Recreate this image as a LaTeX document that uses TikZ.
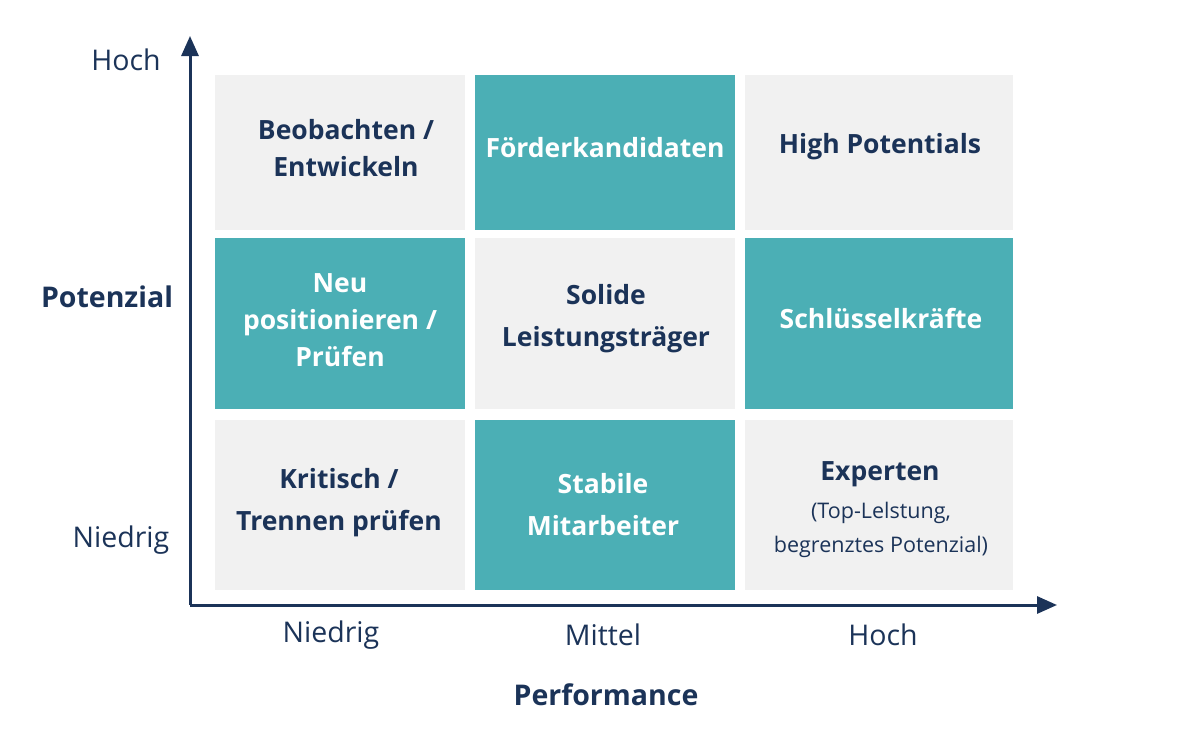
\documentclass[tikz,border=0pt]{standalone}
\usepackage{fontspec}
\setmainfont{Open Sans}
\usetikzlibrary{arrows.meta}
\definecolor{navy}{HTML}{1B3358}
\definecolor{tealc}{HTML}{4BAFB5}
\definecolor{cellgray}{HTML}{F1F1F1}
\tikzset{
  cellbox/.style={draw=none, inner sep=0pt},
  graycell/.style={cellbox, fill=cellgray},
  tealcell/.style={cellbox, fill=tealc},
  celltext/.style={align=center, inner sep=0pt, font=\fontsize{26.5}{42}\selectfont\bfseries},
  tighttext/.style={celltext, font=\fontsize{26.5}{37}\selectfont\bfseries},
  darktext/.style={text=navy},
  lighttext/.style={text=white},
  subtext/.style={align=center, inner sep=0pt, text=navy, font=\fontsize{21.5}{34}\selectfont},
  axisline/.style={draw=navy, line width=3pt, -{Triangle[length=20pt,width=17pt]}},
  ticklabel/.style={text=navy, font=\fontsize{28.5}{30}\selectfont},
  axistitle/.style={text=navy, font=\fontsize{28.5}{30}\selectfont\bfseries}
}
\begin{document}
\begin{tikzpicture}[x=1pt,y=-1pt]
\useasboundingbox[fill=white] (0,0) rectangle (1200,750);
% cells
\node[graycell, minimum width=250pt, minimum height=155pt] (c11) at (340,152.5) {};
\node[tealcell, minimum width=260pt, minimum height=155pt] (c12) at (605,152.5) {};
\node[graycell, minimum width=268pt, minimum height=155pt] (c13) at (879,152.5) {};
\node[tealcell, minimum width=250pt, minimum height=171pt] (c21) at (340,323.5) {};
\node[graycell, minimum width=260pt, minimum height=171pt] (c22) at (605,323.5) {};
\node[tealcell, minimum width=268pt, minimum height=171pt] (c23) at (879,323.5) {};
\node[graycell, minimum width=250pt, minimum height=170pt] (c31) at (340,505) {};
\node[tealcell, minimum width=260pt, minimum height=170pt] (c32) at (605,505) {};
\node[graycell, minimum width=268pt, minimum height=170pt] (c33) at (879,505) {};
% cell texts
\node[tighttext, darktext] (t11) at (346,148) {Beobachten /\\Entwickeln};
\node[celltext, lighttext] (t12) at (605,148) {Förderkandidaten};
\node[celltext, darktext] (t13) at (880,147) {High Potentials};
\node[tighttext, lighttext] (t21) at (340,320) {Neu\\positionieren /\\Prüfen};
\node[celltext, darktext] (t22) at (606,319) {Solide\\Leistungsträger};
\node[celltext, lighttext] (t23) at (881,318) {Schlüsselkräfte};
\node[celltext, darktext] (t31) at (339,503) {Kritisch /\\Trennen prüfen};
\node[celltext, lighttext] (t32) at (603,505) {Stabile\\Mitarbeiter};
\node[celltext, darktext] (t33) at (880,474) {Experten};
\node[subtext] (s33) at (881,530) {(Top-Lelstung,\\begrenztes Potenzial)};
% axes
\coordinate (o) at (190,605);
\coordinate (ytip) at (190,36);
\coordinate (xtip) at (1057,605);
\draw[axisline] (o) -- (ytip);
\draw[axisline] (o) -- (xtip);
% labels
\node[ticklabel] (yhi) at (126,60) {Hoch};
\node[axistitle] (ytitle) at (107,297) {Potenzial};
\node[ticklabel] (ylo) at (121,540) {Niedrig};
\node[ticklabel] (xlo) at (331,635) {Niedrig};
\node[ticklabel] (xmid) at (603,635) {Mittel};
\node[ticklabel] (xhi) at (883,635) {Hoch};
\node[axistitle] (xtitle) at (606,695) {Performance};
\end{tikzpicture}
\end{document}
